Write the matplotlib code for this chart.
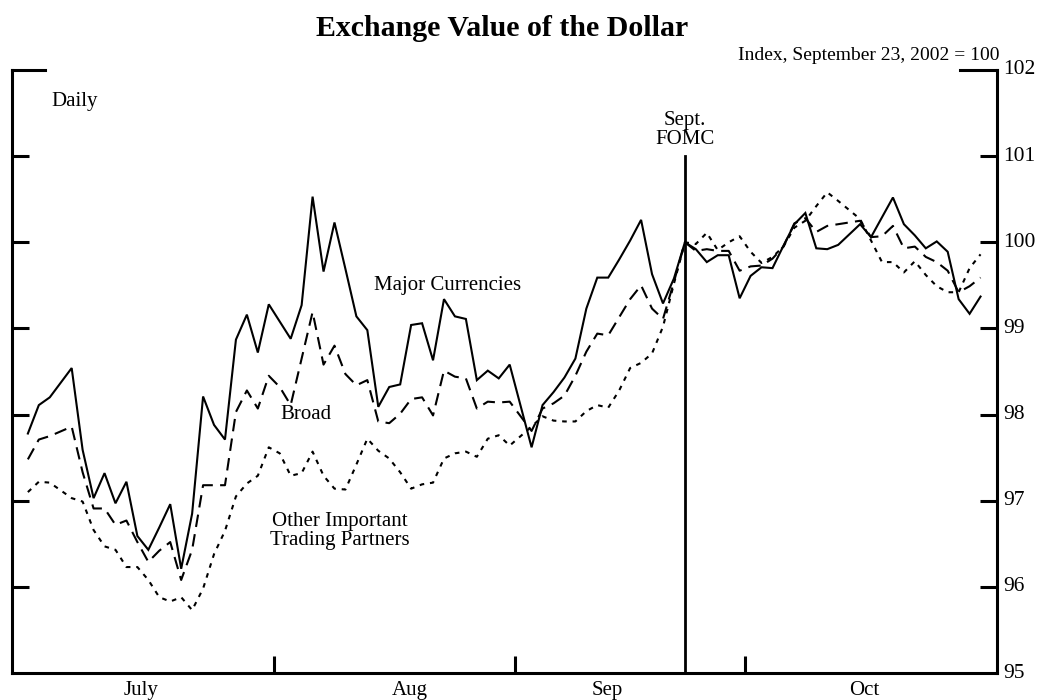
import numpy as np
import pandas as pd
import matplotlib
matplotlib.use("Agg")
import matplotlib.pyplot as plt

plt.rcParams['font.family'] = ['Liberation Serif', 'DejaVu Serif']

# trading days, Jul 1 - Oct 30 2002 (US holidays dropped)
holidays = ['2002-07-04', '2002-09-02', '2002-10-14']
days = pd.bdate_range('2002-07-01', '2002-10-30').drop(pd.to_datetime(holidays))
# position on a weekday axis so holidays leave a gap
xpos = np.busday_count(np.datetime64('2002-07-01'), days.values.astype('datetime64[D]'))

major = [97.78, 98.11, 98.20, 98.54, 97.59, 97.03, 97.32, 96.97, 97.22, 96.59, 96.43,
         96.69, 96.96, 96.21, 96.85, 98.21, 97.88, 97.71, 98.87, 99.16, 98.72, 99.28,
         99.08, 98.88, 99.27, 100.53, 99.66, 100.23, 99.69, 99.14, 98.98, 98.09, 98.32,
         98.35, 99.04, 99.06, 98.63, 99.34, 99.14, 99.11, 98.40, 98.51, 98.42, 98.58,
         97.62, 98.11, 98.26, 98.43, 98.65, 99.23, 99.59, 99.59, 99.80, 100.02, 100.26,
         99.63, 99.29, 99.58, 100.00, 99.92, 99.77, 99.85, 99.85, 99.35,
         99.61, 99.71, 99.70, 99.96, 100.21, 100.34, 99.93, 99.92, 99.97, 100.21, 100.06,
         100.29, 100.52, 100.21, 100.08, 99.93, 100.01, 99.89, 99.34, 99.17, 99.37]

broad = [97.48, 97.71, 97.75, 97.86, 97.33, 96.91, 96.91, 96.72, 96.77, 96.52, 96.29,
         96.42, 96.52, 96.08, 96.43, 97.18, 97.18, 97.18, 98.03, 98.28, 98.07, 98.45,
         98.32, 98.11, 98.65, 99.19, 98.58, 98.80, 98.47, 98.34, 98.40, 97.92, 97.90,
         98.01, 98.18, 98.20, 97.99, 98.51, 98.44, 98.42, 98.07, 98.15, 98.14, 98.15,
         97.81, 98.07, 98.13, 98.22, 98.45, 98.73, 98.94, 98.92, 99.13, 99.34, 99.50,
         99.23, 99.11, 99.54, 100.00, 99.90, 99.92, 99.90, 99.90, 99.67,
         99.72, 99.73, 99.81, 99.95, 100.22, 100.28, 100.12, 100.19, 100.21, 100.25, 100.06,
         100.07, 100.19, 99.93, 99.95, 99.83, 99.77, 99.67, 99.42, 99.49, 99.59]

other = [97.10, 97.22, 97.21, 97.03, 96.99, 96.66, 96.47, 96.43, 96.23, 96.23, 96.08,
         95.88, 95.83, 95.88, 95.73, 95.98, 96.38, 96.65, 97.05, 97.20, 97.29, 97.62,
         97.55, 97.29, 97.32, 97.57, 97.29, 97.14, 97.13, 97.42, 97.72, 97.58, 97.49,
         97.33, 97.14, 97.19, 97.21, 97.49, 97.55, 97.57, 97.51, 97.72, 97.76, 97.64,
         97.86, 97.98, 97.93, 97.92, 97.92, 98.04, 98.11, 98.08, 98.28, 98.54, 98.60,
         98.71, 99.02, 99.52, 100.00, 99.98, 100.11, 99.91, 100.00, 100.07,
         99.89, 99.76, 99.83, 99.95, 100.17, 100.25, 100.42, 100.58, 100.48, 100.27, 100.02,
         99.77, 99.77, 99.65, 99.78, 99.62, 99.49, 99.42, 99.42, 99.70, 99.86]

month_edges = [22.5, 44.5, 65.5]
month_names = ['July', 'Aug', 'Sep', 'Oct']
month_label_x = [10.3, 34.9, 52.9, 76.4]
fomc_x = 60  # Sep 24 meeting, drawn at the Sep 23 base day
yticks = [95, 96, 97, 98, 99, 100, 101, 102]

fig = plt.figure(figsize=(10.49, 7.00), dpi=100)
ax = fig.add_axes([0.01144, 0.03857, 0.93896, 0.86143])

lw = 1.5
ax.plot(xpos, major, color='black', lw=lw, solid_joinstyle='miter')
ax.plot(xpos, broad, color='black', lw=lw, dashes=(6, 3.5))
ax.plot(xpos, other, color='black', lw=lw, dashes=(2.2, 2.8))

ax.axvline(fomc_x, ymin=0, ymax=(101 - 95) / 7, color='black', lw=2.0)

ax.set_xlim(-1.45, 88.5)
ax.set_ylim(95, 102)

# frame: open top, ticks pointing in
ax.spines['top'].set_visible(False)
for s in ['left', 'right', 'bottom']:
    ax.spines[s].set_linewidth(2.2)
ax.plot([0, 0.034], [1, 1], transform=ax.transAxes, color='black', lw=2.2,
        clip_on=False, solid_capstyle='projecting')
ax.plot([0.962, 1], [1, 1], transform=ax.transAxes, color='black', lw=2.2,
        clip_on=False, solid_capstyle='projecting')

fs = 15
ax.set_yticks(yticks[1:-1])
ax.tick_params(axis='y', which='major', direction='in', length=12, width=2.2,
               left=True, right=True, labelleft=False, labelright=False)
for v in yticks:
    ax.text(1.006, (v - 95) / 7, str(v), transform=ax.transAxes, fontsize=15.5,
            ha='left', va='center')

ax.set_xticks(month_edges)
ax.set_xticklabels([])
ax.set_xticks(month_label_x, minor=True)
ax.set_xticklabels(month_names, minor=True)
ax.tick_params(axis='x', which='major', direction='in', length=12, width=2.2)
ax.tick_params(axis='x', which='minor', length=0, pad=6, labelsize=fs)

fig.text(0.479, 0.959, 'Exchange Value of the Dollar', ha='center', va='center',
         fontsize=21.5, fontweight='bold')
fig.text(0.953, 0.921, 'Index, September 23, 2002 = 100', ha='right', va='center',
         fontsize=14)

ax.text(4.3, 101.64, 'Daily', fontsize=fs, ha='center', va='center')
ax.text(fomc_x, 101.30, 'Sept.\nFOMC', fontsize=fs, ha='center', va='center',
        linespacing=1.0)
ax.text(38.3, 99.50, 'Major Currencies', fontsize=fs, ha='center', va='center')
ax.text(25.4, 98.00, 'Broad', fontsize=fs, ha='center', va='center')
ax.text(28.5, 96.65, 'Other Important\nTrading Partners', fontsize=fs,
        ha='center', va='center', linespacing=1.0)

fig.savefig('out.png', dpi=100)
